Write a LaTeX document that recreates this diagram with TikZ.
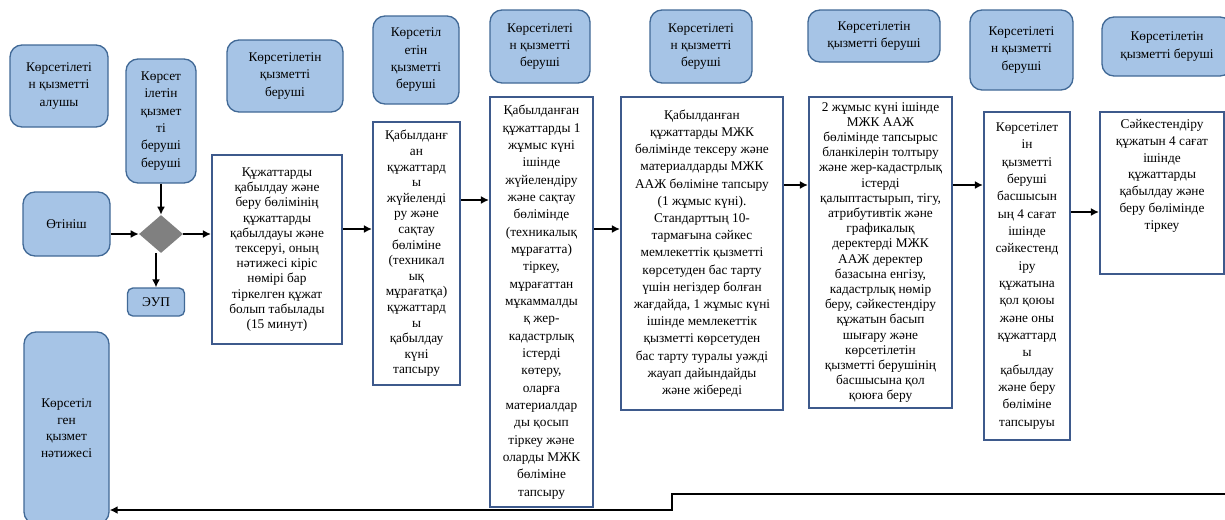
\documentclass[tikz,border=0pt]{standalone}
\usepackage{fontspec}
\setmainfont{Liberation Serif}
\usetikzlibrary{shapes.geometric,arrows.meta}

\definecolor{actorfill}{RGB}{166,196,230}
\definecolor{actorline}{RGB}{65,105,150}
\definecolor{stepline}{RGB}{62,90,140}
\definecolor{decision}{RGB}{128,128,128}

\newcommand{\boxfont}[1]{\fontsize{10}{#1}\selectfont}

\begin{document}
\begin{tikzpicture}[x=0.75pt,y=-0.75pt,
    actor/.style={draw=actorline, fill=actorfill, line width=1pt, rounded corners=9pt,
        align=center, inner sep=0pt, font=\boxfont{13}},
    stepbox/.style={draw=stepline, fill=white, line width=1.6pt,
        align=center, inner sep=0pt, font=\boxfont{13}},
    arr/.style={-{Latex[length=6pt,width=6pt]}, line width=1.3pt}]

\useasboundingbox (0,0) rectangle (1225,519);

% clients and first step
\node[actor, minimum width=73.5pt, minimum height=61.5pt] (alushy) at (59,86) {Көрсетілеті\\н қызметті\\алушы};
\node[actor, minimum width=52.5pt, minimum height=93pt] (beru0) at (161,121) {Көрсет\\ілетін\\қызмет\\ті\\беруші\\беруші};
\node[actor, minimum width=65.25pt, minimum height=48pt] (otinish) at (66.5,224) {Өтініш};
\node[diamond, fill=decision, inner sep=0pt, minimum width=33pt, minimum height=28.5pt] (dia) at (161,234) {};
\node[actor, rounded corners=4pt, minimum width=42.75pt, minimum height=21pt] (eup) at (156,302) {ЭУП};

% column heads
\node[actor, minimum width=87pt, minimum height=54pt] (head1) at (285,76) {Көрсетілетін\\қызметті\\беруші};
\node[actor, minimum width=64.5pt, minimum height=66pt] (head2) at (416,60) {Көрсетіл\\етін\\қызметті\\беруші};
\node[actor, minimum width=75pt, minimum height=54.75pt] (head3) at (540,46.5) {Көрсетілеті\\н қызметті\\беруші};
\node[actor, minimum width=76.5pt, minimum height=54.75pt] (head4) at (701,46.5) {Көрсетілеті\\н қызметті\\беруші};
\node[actor, minimum width=99pt, minimum height=39pt] (head5) at (874,36) {Көрсетілетін\\қызметті беруші};
\node[actor, minimum width=77.25pt, minimum height=60pt] (head6) at (1021.5,50) {Көрсетілеті\\н қызметті\\беруші};
\node[actor, minimum width=97.5pt, minimum height=44.25pt] (head7) at (1167,46.5) {Көрсетілетін\\қызметті беруші};

% process steps
\node[stepbox, font=\boxfont{11.4}, minimum width=97.5pt, minimum height=141.75pt] (b1) at (277,249.5)
    {Құжаттарды\\қабылдау және\\беру бөлімінің\\құжаттарды\\қабылдауы және\\тексеруі, оның\\нәтижесі кіріс\\нөмірі бар\\тіркелген құжат\\болып табылады\\(15 минут)};
\node[stepbox, font=\boxfont{11.7}, minimum width=65.25pt, minimum height=197.25pt] (b2) at (416.5,253.5)
    {Қабылданғ\\ан\\құжаттард\\ы\\жүйеленді\\ру және\\сақтау\\бөліміне\\(техникал\\ық\\мұрағатқа)\\құжаттард\\ы\\қабылдау\\күні\\тапсыру};
\node[stepbox, minimum width=77.25pt, minimum height=307.5pt] (b3) at (541.5,302)
    {Қабылданған\\құжаттарды 1\\жұмыс күні\\ішінде\\жүйелендіру\\және сақтау\\бөлімінде\\(техникалық\\мұрағатта)\\тіркеу,\\мұрағаттан\\мұкаммалды\\қ жер-\\кадастрлық\\істерді\\көтеру,\\оларға\\материалдар\\ды қосып\\тіркеу және\\оларды МЖК\\бөліміне\\тапсыру};
\node[stepbox, font=\boxfont{12.9}, minimum width=121.5pt, minimum height=234.75pt] (b4) at (702,253.5)
    {Қабылданған\\құжаттарды МЖК\\бөлімінде тексеру және\\материалдарды МЖК\\ААЖ бөліміне тапсыру\\(1 жұмыс күні).\\Стандарттың 10-\\тармағына сәйкес\\мемлекеттік қызметті\\көрсетуден бас тарту\\үшін негіздер болған\\жағдайда, 1 жұмыс күні\\ішінде мемлекеттік\\қызметті көрсетуден\\бас тарту туралы уәжді\\жауап дайындайды\\және жібереді};
\node[stepbox, font=\boxfont{11.4}, minimum width=107.25pt, minimum height=233.25pt] (b5) at (880.5,252.5)
    {2 жұмыс күні ішінде\\МЖК ААЖ\\бөлімінде тапсырыс\\бланкілерін толтыру\\және жер-кадастрлық\\істерді\\қалыптастырып, тігу,\\атрибутивтік және\\графикалық\\деректерді МЖК\\ААЖ деректер\\базасына енгізу,\\кадастрлық нөмір\\беру, сәйкестендіру\\құжатын басып\\шығару және\\көрсетілетін\\қызметті берушінің\\басшысына қол\\қоюға беру};
\node[stepbox, minimum width=64.5pt, minimum height=246pt] (b6) at (1027,276)
    {Көрсетілет\\ін\\қызметті\\беруші\\басшысын\\ың 4 сағат\\ішінде\\сәйкестенд\\іру\\құжатына\\қол қоюы\\және оны\\құжаттард\\ы\\қабылдау\\және беру\\бөліміне\\тапсыруы};
\node[stepbox, minimum width=93pt, minimum height=121.5pt] (b7) at (1162,193) {};
\node[align=center, inner sep=0pt, anchor=north, font=\boxfont{12.6}] (b7text) at (1162,119)
    {Сәйкестендіру\\құжатын 4 сағат\\ішінде\\құжаттарды\\қабылдау және\\беру бөлімінде\\тіркеу};

% result
\node[actor, minimum width=63.75pt, minimum height=144pt, font=\boxfont{12.5}] (res) at (66.5,428) {Көрсетіл\\ген\\қызмет\\нәтижесі};

% connectors
\draw[arr] (otinish.east |- dia.west) -- (dia.west);
\draw[arr] (beru0.south) -- (dia.north);
\draw[arr] (eup.north |- dia.south) -- (eup.north);
\draw[arr] (dia.east) -- (dia.east -| b1.west);
\draw[arr] (b1.east |- 0,229) -- (b2.west |- 0,229);
\draw[arr] (b2.east |- 0,200) -- (b3.west |- 0,200);
\draw[arr] (b3.east |- 0,229) -- (b4.west |- 0,229);
\draw[arr] (b4.east |- 0,185) -- (b5.west |- 0,185);
\draw[arr] (b5.east |- 0,185) -- (b6.west |- 0,185);
\draw[arr] (b6.east |- 0,212) -- (b7.west |- 0,212);

% return line from the right
\coordinate (back) at (1235,494);
\coordinate (bend) at (672,494);
\draw[arr, line width=1.8pt] (back) -- (bend) -- ++(0,16) -- (res.east |- 0,510);

\end{tikzpicture}
\end{document}
